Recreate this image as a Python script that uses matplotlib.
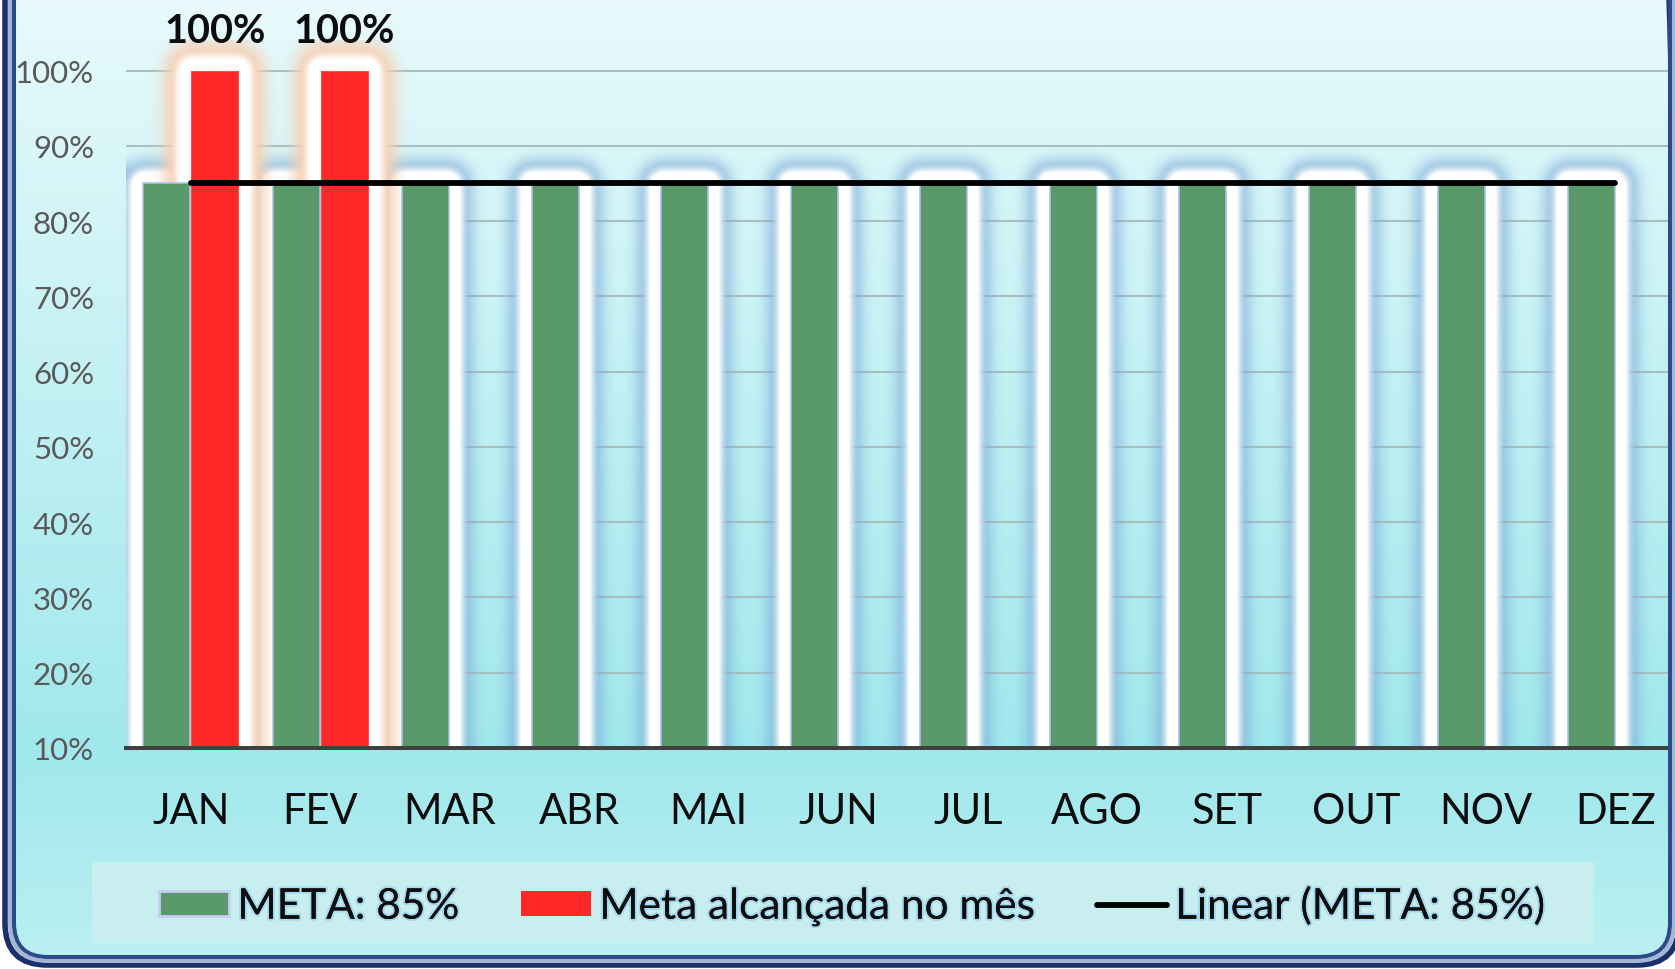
import numpy as np
import matplotlib
matplotlib.use("Agg")
import matplotlib.pyplot as plt
import matplotlib.patheffects as pe
from matplotlib.patches import FancyBboxPatch, Rectangle, Patch
from matplotlib.lines import Line2D
from matplotlib.transforms import IdentityTransform

plt.rcParams["font.family"] = ["Lato", "DejaVu Sans"]

# ─────────────────────────────────────────────
#  DADOS
# ─────────────────────────────────────────────
MESES = ["JAN", "FEV", "MAR", "ABR", "MAI", "JUN",
         "JUL", "AGO", "SET", "OUT", "NOV", "DEZ"]
META = [85, 85, 85, 85, 85, 85, 85, 85, 85, 85, 85, 85]
ALCANCADA = [100, 100, 0, 0, 0, 0, 0, 0, 0, 0, 0, 0]
Y_TICKS = [10, 20, 30, 40, 50, 60, 70, 80, 90, 100]
LEGENDA = ["META: 85%", "Meta alcançada no mês", "Linear (META: 85%)"]

# ─────────────────────────────────────────────
#  ESTILO
# ─────────────────────────────────────────────
VERDE = "#5a996a"
VERMELHO = "#ff2727"
TEXTO = "#0d0d0d"
CINZA = "#595959"
W, H = 1675, 970

fig = plt.figure(figsize=(W / 100, H / 100), dpi=100, facecolor="white")

# fundo em degradê (topo claro -> base ciano)
bg = fig.add_axes([0, 0, 1, 1], zorder=-10)
bg.axis("off")
ys = np.arange(H)
stops_y = [0, 750, 970]
cores = np.array([[232, 250, 252], [160, 232, 236], [188, 240, 242]]) / 255
grad = np.stack([np.interp(ys, stops_y, cores[:, i]) for i in range(3)], axis=-1)
im_bg = bg.imshow(grad[:, None, :], extent=(0, 1, 0, 1), aspect="auto",
                  interpolation="bilinear")
clip = FancyBboxPatch((14, 11), 1670 - 14, 1300,
                      boxstyle="round,pad=0,rounding_size=34",
                      transform=IdentityTransform())
im_bg.set_clip_path(clip)

# ─────────────────────────────────────────────
#  GRÁFICO
# ─────────────────────────────────────────────
ax = fig.add_axes([126 / W, 221 / H, 12 * 129.5 / W, 94 * 7.527 / H])
ax.set_facecolor("none")
x = np.arange(len(MESES))
bw = 0.36
off = 0.185
ax.set_xlim(-0.5, 11.5)
ax.set_ylim(10, 104)

# brilho (glow) em volta das barras: máscara dilatada + desfoque
bb = ax.get_position()
pw, ph = int(round(bb.width * W)), int(round(bb.height * H))
x0, x1 = ax.get_xlim()
y0, y1 = ax.get_ylim()
sx, sy = pw / (x1 - x0), ph / (y1 - y0)
GX, GY = np.meshgrid(x0 + (np.arange(pw) + 0.5) / sx,
                     y0 + (np.arange(ph) + 0.5) / sy)


def distancia(centros, alturas):
    d = np.full(GX.shape, np.inf)
    for c, h in zip(centros, alturas):
        if h <= y0:
            continue
        dx = np.clip(np.abs(GX - c) - bw / 2, 0, None) * sx
        dy = np.clip(GY - h, 0, None) * sy
        d = np.minimum(d, np.hypot(dx, dy))
    return d


def caixa(a, r, eixo):
    a = np.moveaxis(a, eixo, -1)
    pad = np.pad(a, [(0, 0)] * (a.ndim - 1) + [(r + 1, r)], mode="edge")
    c = np.cumsum(pad, axis=-1)
    out = (c[..., 2 * r + 1:] - c[..., :-(2 * r + 1)]) / (2 * r + 1)
    return np.moveaxis(out, -1, eixo)


def desfoque(mask, r):
    a = mask.astype(float)
    for _ in range(3):
        a = caixa(a, r, 0)
        a = caixa(a, r, 1)
    return a


P = np.zeros(GX.shape + (3,))
A = np.zeros(GX.shape)


def sobre(cor, alfa):
    global P, A
    alfa = np.clip(alfa, 0, 1)
    c = np.array(cor) / 255
    P = c * alfa[..., None] + P * (1 - alfa[..., None])
    A = alfa + A * (1 - alfa)


dg = distancia(x - off, META)
dr = distancia(x + off, ALCANCADA)
sobre((125, 172, 215), 0.75 * desfoque(dg < 23, 6))
sobre((255, 255, 255), 1.6 * desfoque(dg < 13, 4) - 0.1)
sobre((246, 208, 180), 1.1 * desfoque(dr < 26, 7))
sobre((255, 255, 255), 1.5 * desfoque(dr < 14, 4) - 0.1)
rgba = np.zeros(GX.shape + (4,))
rgba[..., :3] = np.where(A[..., None] > 0, P / np.maximum(A, 1e-9)[..., None], 0)
rgba[..., 3] = A
ax.imshow(rgba, extent=(x0, x1, y0, y1), origin="lower", aspect="auto",
          interpolation="bilinear", zorder=2)
ax.set_xlim(x0, x1)
ax.set_ylim(y0, y1)

ax.set_yticks(Y_TICKS)
ax.yaxis.grid(True, color="#a9bfbf", linewidth=1.5)
ax.set_axisbelow(True)

ax.bar(x - off, META, width=bw, color=VERDE, edgecolor="#a9c3e3",
       linewidth=1.2, zorder=3)
ax.bar(x + off, ALCANCADA, width=bw, color=VERMELHO, edgecolor="#ff4a4a",
       linewidth=0.8, zorder=3)

# linha de tendência linear da série META
coef = np.polyfit(x, META, 1)
ax.plot(x, np.polyval(coef, x), color="black", linewidth=4.2,
        solid_capstyle="round", zorder=4)

for xi, v in zip(x + off, ALCANCADA):
    if v > 0:
        ax.annotate(f"{v}%", (xi, v), xytext=(0, 29), textcoords="offset points",
                    ha="center", va="center", fontsize=28.5, fontweight="bold",
                    color=TEXTO, annotation_clip=False)

ax.set_yticklabels([f"{t}%" for t in Y_TICKS])
ax.set_xticks(x)
ax.set_xticklabels(MESES)
ax.tick_params(axis="y", length=0, pad=23, labelsize=22.5, labelcolor=CINZA)
ax.tick_params(axis="x", length=0, pad=32, labelsize=30, labelcolor=TEXTO)
for lado in ["left", "top", "right"]:
    ax.spines[lado].set_visible(False)
ax.spines["bottom"].set_color("#404040")
ax.spines["bottom"].set_linewidth(2.9)
ax.spines["bottom"].set_zorder(5)

# ─────────────────────────────────────────────
#  LEGENDA
# ─────────────────────────────────────────────
fig.add_artist(Rectangle((92 / W, 26 / H), 1502 / W, 81 / H,
                         transform=fig.transFigure, facecolor="#c8eef0",
                         edgecolor="none"))
handles = [Patch(facecolor=VERDE, edgecolor="#c5cdf2", linewidth=2),
           Patch(facecolor=VERMELHO, edgecolor="none"),
           Line2D([], [], color="black", linewidth=4.2, solid_capstyle="round")]
leg = fig.legend(handles, LEGENDA, loc="center", bbox_to_anchor=(852 / W, 63 / H),
                 ncol=3, frameon=False, fontsize=30.5, handlelength=1.65,
                 handleheight=0.55, handletextpad=0.2, columnspacing=1.45,
                 borderpad=0, borderaxespad=0)
for t in leg.get_texts():
    t.set_color(TEXTO)
    t.set_path_effects([pe.withStroke(linewidth=3, foreground="#a6d9ee"), pe.Normal()])

# ─────────────────────────────────────────────
#  MOLDURA
# ─────────────────────────────────────────────
def moldura(xa, ya, xb, r, lw, cor):
    p = FancyBboxPatch((xa, ya), xb - xa, 1300,
                       boxstyle=f"round,pad=0,rounding_size={r}",
                       transform=IdentityTransform(), fill=False,
                       edgecolor=cor, linewidth=lw)
    fig.add_artist(p)


moldura(5, 4, 1679, 42, 4.0, "#1b2f6b")
moldura(10, 8, 1674, 38, 2.9, "#a4b6d2")
moldura(14, 12, 1670, 34, 2.9, "#2b4a8a")

fig.savefig("out.png", dpi=100, facecolor="white")
